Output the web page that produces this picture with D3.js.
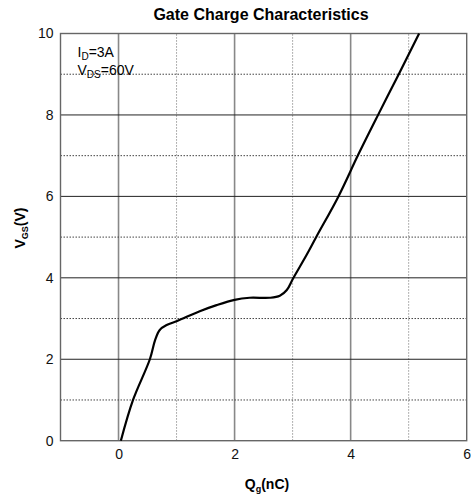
<!DOCTYPE html>
<html>
<head>
<meta charset="utf-8">
<script src="https://cdn.jsdelivr.net/npm/d3@7"></script>
<style>
  body { margin: 0; background: #fff; }
  svg { display: block; font-family: "Liberation Sans", Arial, sans-serif; }
</style>
</head>
<body>
<div id="chart"></div>
<script>
// gate charge curve
var qg = [0.04, 0.25, 0.54, 0.63, 0.71, 0.83, 1.01, 1.40, 1.69, 2.00, 2.26, 2.61, 2.78, 2.90, 3.01, 3.24, 3.41, 3.79, 4.13, 4.48, 4.84, 5.18];
var vgs = [0.00, 1.00, 2.00, 2.47, 2.72, 2.84, 2.94, 3.18, 3.33, 3.46, 3.51, 3.51, 3.56, 3.70, 3.99, 4.56, 5.01, 6.00, 7.02, 8.02, 9.03, 10.0];
var xTicks = [0, 2, 4, 6];
var yTicks = [0, 2, 4, 6, 8, 10];
var xGrid = [0, 1, 2, 3, 4, 5];
var yGrid = [1, 2, 3, 4, 5, 6, 7, 8, 9];

const W = 471, H = 499;
const m = { left: 60.5, right: 4.3, top: 33.5, bottom: 58.3 };

const svg = d3.select('#chart').append('svg').attr('width', W).attr('height', H);

const x = d3.scaleLinear().domain([-1, 6]).range([m.left, W - m.right]);
const y = d3.scaleLinear().domain([0, 10]).range([H - m.bottom, m.top]);

// grid: solid on even values, dotted on odd
svg.append('g').selectAll('line').data(xGrid).enter().append('line')
  .attr('x1', d => x(d)).attr('x2', d => x(d))
  .attr('y1', y(0)).attr('y2', y(10))
  .attr('stroke', d => d % 2 ? '#999' : '#888')
  .attr('stroke-width', d => d % 2 ? 1 : 1.6)
  .attr('stroke-dasharray', d => d % 2 ? '1.5,1.5' : null);

svg.append('g').selectAll('line').data(yGrid).enter().append('line')
  .attr('x1', x(-1)).attr('x2', x(6))
  .attr('y1', d => y(d)).attr('y2', d => y(d))
  .attr('stroke', d => d % 2 ? '#444' : '#222')
  .attr('stroke-width', 1)
  .attr('stroke-dasharray', d => d % 2 ? '1.5,1.5' : null);

svg.append('rect')
  .attr('x', x(-1)).attr('y', y(10))
  .attr('width', x(6) - x(-1)).attr('height', y(0) - y(10))
  .attr('fill', 'none').attr('stroke', '#666').attr('stroke-width', 1.4);

// axes
const xAxis = svg.append('g').attr('transform', `translate(0,${y(0)})`)
  .call(d3.axisBottom(x).tickValues(xTicks).tickFormat(d3.format('d')).tickSize(0).tickPadding(8));
const yAxis = svg.append('g').attr('transform', `translate(${x(-1)},0)`)
  .call(d3.axisLeft(y).tickValues(yTicks).tickFormat(d3.format('d')).tickSize(0).tickPadding(7));
[xAxis, yAxis].forEach(a => {
  a.select('.domain').remove();
  a.selectAll('text').attr('font-size', 14).attr('fill', '#111')
    .attr('font-family', '"Liberation Sans", Arial, sans-serif');
});

// curve
const line = d3.line().x(d => x(d[0])).y(d => y(d[1])).curve(d3.curveCatmullRom.alpha(0.5));
svg.append('path')
  .datum(d3.zip(qg, vgs))
  .attr('d', line)
  .attr('fill', 'none').attr('stroke', '#000').attr('stroke-width', 2.2);

// title and labels
svg.append('text').attr('x', 261).attr('y', 19.5)
  .attr('text-anchor', 'middle').attr('font-weight', 'bold').attr('font-size', 16)
  .text('Gate Charge Characteristics');

const xl = svg.append('text').attr('x', 267).attr('y', 489)
  .attr('text-anchor', 'middle').attr('font-weight', 'bold').attr('font-size', 14);
xl.append('tspan').text('Q');
xl.append('tspan').attr('font-size', 9).attr('dy', 3).text('g');
xl.append('tspan').attr('dy', -3).text('(nC)');

const yl = svg.append('text').attr('transform', 'translate(25,228) rotate(-90)')
  .attr('text-anchor', 'middle').attr('font-weight', 'bold').attr('font-size', 14);
yl.append('tspan').text('V');
yl.append('tspan').attr('font-size', 9).attr('dy', 3).text('GS');
yl.append('tspan').attr('dy', -3).text('(V)');

const a1 = svg.append('text').attr('x', 77.5).attr('y', 57).attr('font-size', 14);
a1.append('tspan').text('I');
a1.append('tspan').attr('font-size', 10).attr('dy', 3).text('D');
a1.append('tspan').attr('dy', -3).text('=3A');

const a2 = svg.append('text').attr('x', 77.5).attr('y', 75).attr('font-size', 14);
a2.append('tspan').text('V');
a2.append('tspan').attr('font-size', 10).attr('dy', 3).text('DS');
a2.append('tspan').attr('dy', -3).text('=60V');
</script>
</body>
</html>
